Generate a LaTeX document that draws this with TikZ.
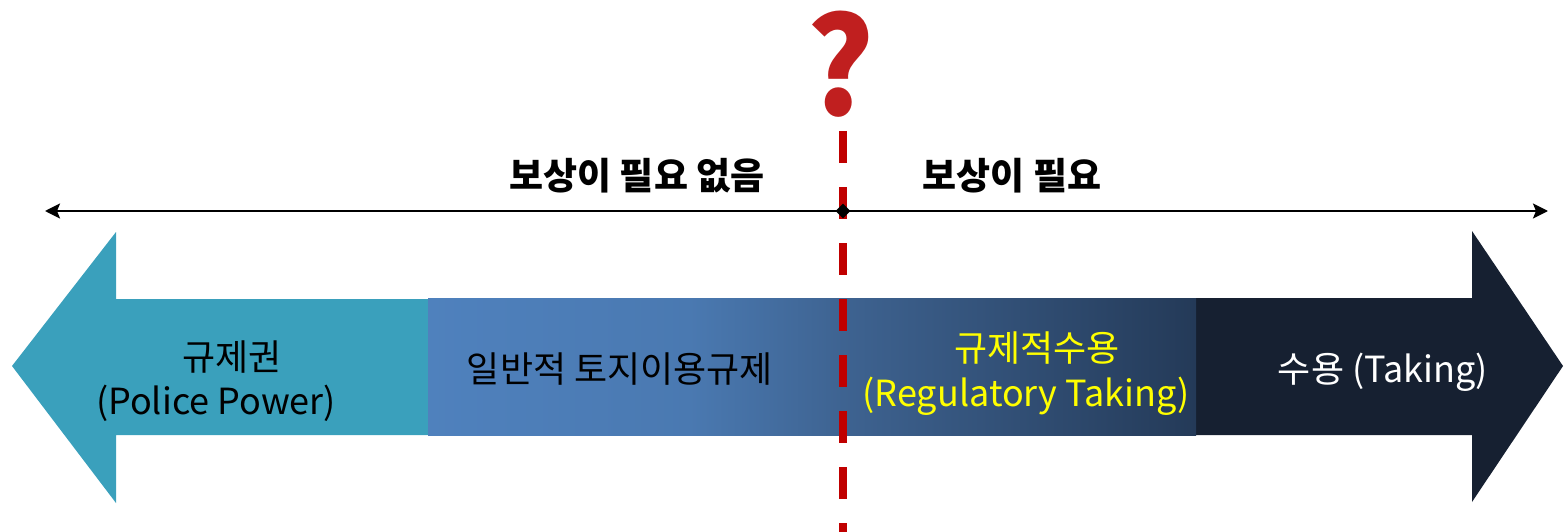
\documentclass[tikz,border=0pt]{standalone}
\usepackage{fontspec}
\setmainfont{Noto Sans CJK KR}
\usetikzlibrary{arrows.meta,shapes.geometric}
\definecolor{teal1}{HTML}{3AA0BC}
\definecolor{navy1}{HTML}{162031}
\definecolor{g1}{HTML}{4F81BD}
\definecolor{g2}{HTML}{4A79B1}
\definecolor{g3}{HTML}{3E6391}
\definecolor{g4}{HTML}{243A58}
\definecolor{dashred}{HTML}{C00000}
\definecolor{qred}{HTML}{C01F1F}
\definecolor{ylw}{HTML}{FFFF00}
\pgfdeclarehorizontalshading{midgrad}{100bp}{color(0bp)=(g1); color(25bp)=(g1); color(42bp)=(g2); color(52bp)=(g3); color(75bp)=(g4); color(100bp)=(g4)}
\tikzset{
  boxtext/.style={inner sep=0pt, font=\fontsize{36}{43}\selectfont},
  toptext/.style={inner sep=0pt, font=\fontsize{37}{44}\selectfont\bfseries},
  axisline/.style={line width=2.5pt, {Stealth[length=15pt,width=15pt,inset=3pt]}-{Stealth[length=15pt,width=15pt,inset=3pt]}},
  reddash/.style={draw=dashred, line width=8pt, dash pattern=on 32pt off 24pt},
}
\begin{document}
\begin{tikzpicture}[x=1pt,y=-1pt]
\useasboundingbox (0,0) rectangle (1564,532);
% big arrows
\fill[teal1] (12,366) -- (116,232) -- (116,299) -- (430,299) -- (430,435) -- (116,435) -- (116,503) -- cycle;
\fill[navy1] (1190,298) -- (1472,298) -- (1472,231) -- (1563,366) -- (1472,502) -- (1472,435) -- (1190,435) -- cycle;
\shade[shading=midgrad] (428,298) rectangle (1196,435);
% red dashed divider
\coordinate (dtop) at (843,131);
\coordinate (dbot) at (843,540);
\draw[reddash] (dtop) -- (dbot);
% axis
\coordinate (L) at (45,211);
\coordinate (R) at (1548,211);
\draw[axisline] (L) -- (R);
\node[diamond, fill=black, minimum size=15pt, inner sep=0pt] (mid) at (843,211) {};
% texts
\node[inner sep=0pt, text=qred, font=\fontsize{134}{140}\selectfont\bfseries, xscale=0.95] (q) at (841,64) {?};
\node[toptext] (nc) at (637,176) {보상이 필요 없음};
\node[toptext] (c) at (1012,176) {보상이 필요};
\node[boxtext] (pp1) at (232,357) {규제권};
\node[boxtext] (pp2) at (216,403) {(Police Power)};
\node[boxtext] (gen) at (620,369) {일반적 토지이용규제};
\node[boxtext, text=ylw] (rt1) at (1037,348) {규제적수용};
\node[boxtext, text=ylw] (rt2) at (1026,396) {(Regulatory Taking)};
\node[boxtext, text=white] (tk) at (1383,372) {수용 (Taking)};
\end{tikzpicture}
\end{document}
